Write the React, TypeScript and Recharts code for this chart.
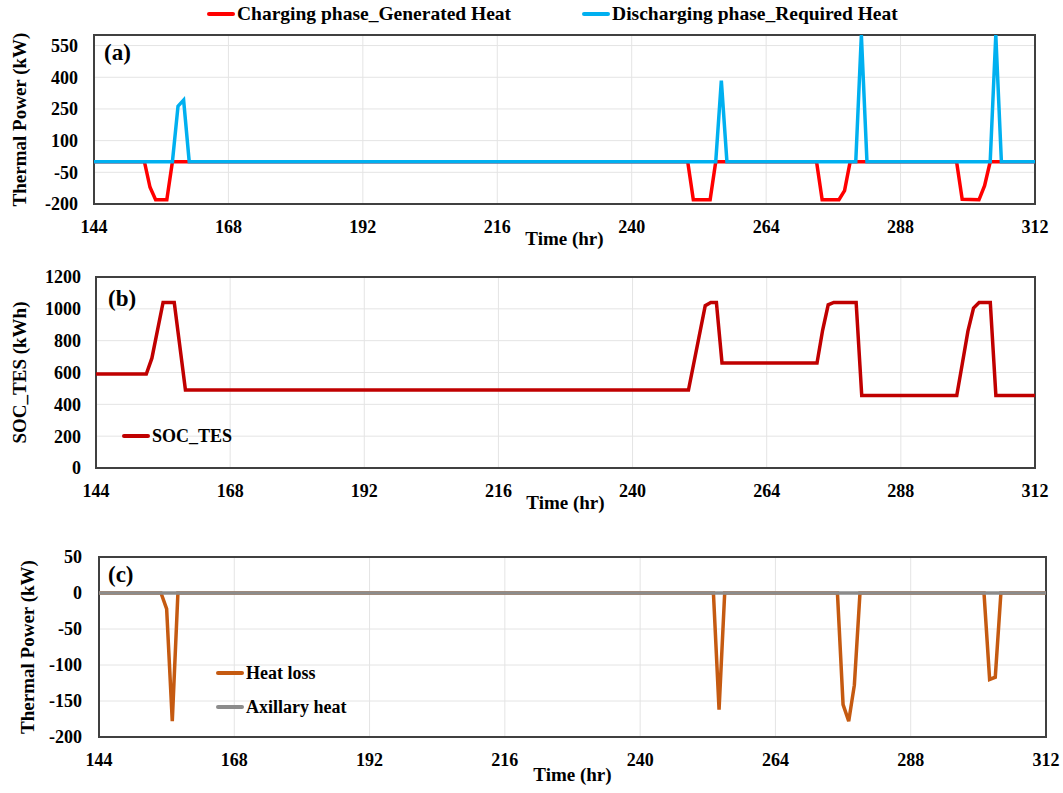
import React from "react";
import { LineChart, Line, XAxis, YAxis, CartesianGrid, Legend, ReferenceArea, Label } from "recharts";

const FONT = '"Liberation Serif", "Times New Roman", serif';

const hourTicks = [144, 168, 192, 216, 240, 264, 288, 312];

// (a) charging / discharging heat of the TES
const chargeHours = [144, 153, 154, 155, 157, 158, 250, 251, 254, 255, 273, 274, 277, 278, 279, 298, 299, 302, 303, 304, 312];
const chargeHeat = [0, 0, -121, -180, -180, 0, 0, -180, -180, 0, 0, -180, -180, -137, 0, 0, -178, -180, -113, 0, 0];
const dischargeHours = [144, 158, 159, 160, 161, 255, 256, 257, 280, 281, 282, 304, 305, 306, 312];
const dischargeHeat = [0, 0, 263, 292, 0, 0, 384, 0, 0, 600, 0, 0, 600, 0, 0];
const powerTicks = [-200, -50, 100, 250, 400, 550];

// (b) state of charge
const socHours = [144, 153, 154, 156, 158, 160, 250, 253, 254, 255, 256, 273, 274, 275, 276, 280, 281, 298, 299, 300, 301, 302, 304, 305, 312];
const socValues = [590, 590, 690, 1040, 1040, 490, 490, 1020, 1040, 1040, 660, 660, 865, 1025, 1040, 1040, 455, 455, 657, 860, 1005, 1040, 1040, 455, 455];
const socTicks = [0, 200, 400, 600, 800, 1000, 1200];

// (c) losses and auxiliary heat
const lossHours = [144, 155, 156, 157, 158, 253, 254, 255, 275, 276, 277, 278, 279, 301, 302, 303, 304, 312];
const heatLoss = [0, 0, -22, -178, 0, 0, -162, 0, 0, -155, -178, -128, 0, 0, -120, -117, 0, 0];
const auxHours = [144, 312];
const auxHeat = [0, 0];
const lossTicks = [-200, -150, -100, -50, 0, 50];

const toSeries = (hours: number[], values: number[]) => hours.map((t, i) => ({ t, v: values[i] }));

const textStyle = { fontFamily: FONT, fontWeight: 700, fill: "#000" };

function LegendBox({ payload, order, vertical }: any) {
  const items = order.map((name: string) => (payload || []).find((p: any) => p.value === name)).filter(Boolean);
  return (
    <div style={{ display: "flex", flexDirection: vertical ? "column" : "row", gap: vertical ? 12 : 71 }}>
      {items.map((p: any) => (
        <div key={p.value} style={{ display: "flex", alignItems: "center", height: 22 }}>
          <span style={{ display: "inline-block", width: 28, height: 4, background: p.color, borderRadius: 2 }} />
          <span style={{ marginLeft: 2, fontFamily: FONT, fontWeight: 700, fontSize: vertical ? 18 : 19.5, color: "#000", whiteSpace: "nowrap" }}>
            {p.value}
          </span>
        </div>
      ))}
    </div>
  );
}

const yTitle = (text: string, cx: number) => (props: any) => {
  const vb = props.viewBox || {};
  const cy = vb.y + vb.height / 2;
  return (
    <text x={cx} y={cy} transform={`rotate(-90 ${cx} ${cy})`} textAnchor="middle" dominantBaseline="central" fontSize={19} {...textStyle}>
      {text}
    </text>
  );
};

function Panel({ top, height, margin, yWidth, domain, ticks, yLabel, yLabelX, tickGap, timeOffset, children }: any) {
  return (
    <div style={{ position: "absolute", left: 0, top }}>
      <LineChart width={1063} height={height} margin={margin}>
        <CartesianGrid stroke="#e4e4e4" strokeWidth={1} />
        <XAxis
          dataKey="t"
          type="number"
          domain={[144, 312]}
          ticks={hourTicks}
          axisLine={false}
          tickLine={false}
          tickSize={0}
          tickMargin={16}
          height={50}
          tick={{ fontSize: 18, ...textStyle }}
          label={{ value: "Time (hr)", position: "insideBottom", offset: timeOffset, fontSize: 19, ...textStyle }}
        />
        <YAxis
          type="number"
          domain={domain}
          ticks={ticks}
          width={yWidth}
          axisLine={false}
          tickLine={false}
          tickSize={0}
          tickMargin={tickGap}
          tick={{ fontSize: 18, ...textStyle }}
          label={<Label content={yTitle(yLabel, yLabelX)} />}
        />
        {children}
        <ReferenceArea x1={144} x2={312} y1={domain[0]} y2={domain[1]} fill="none" stroke="#404040" strokeWidth={2} />
      </LineChart>
    </div>
  );
}

const tagStyle = (left: number, top: number): React.CSSProperties => ({
  position: "absolute",
  left,
  top,
  fontFamily: FONT,
  fontWeight: 700,
  fontSize: 23,
  lineHeight: 1,
  color: "#000",
});

export default function App() {
  return (
    <div style={{ position: "absolute", left: 0, top: 0, width: 1063, height: 793, background: "#fff", overflow: "hidden" }}>
      <Panel
        top={0}
        height={260}
        margin={{ top: 35, right: 28, bottom: 6, left: 0 }}
        yWidth={94}
        domain={[-200, 600]}
        ticks={powerTicks}
        yLabel="Thermal Power (kW)"
        yLabelX={19}
        tickGap={16}
        timeOffset={9}
      >
        <Legend
          layout="horizontal"
          verticalAlign="middle"
          align="center"
          wrapperStyle={{ left: 207, top: 3, width: "auto" }}
          content={(p: any) => (
            <LegendBox {...p} order={["Charging phase_Generated Heat", "Discharging phase_Required Heat"]} />
          )}
        />
        <Line data={toSeries(chargeHours, chargeHeat)} dataKey="v" name="Charging phase_Generated Heat" stroke="#ff0000" strokeWidth={3.5} dot={false} isAnimationActive={false} />
        <Line data={toSeries(dischargeHours, dischargeHeat)} dataKey="v" name="Discharging phase_Required Heat" stroke="#00b0f0" strokeWidth={3.5} dot={false} isAnimationActive={false} />
      </Panel>

      <Panel
        top={250}
        height={270}
        margin={{ top: 27, right: 28, bottom: 2, left: 0 }}
        yWidth={96}
        domain={[0, 1200]}
        ticks={socTicks}
        yLabel="SOC_TES (kWh)"
        yLabelX={19}
        tickGap={15}
        timeOffset={9}
      >
        <Legend
          layout="horizontal"
          verticalAlign="middle"
          align="center"
          wrapperStyle={{ left: 122, top: 175, width: "auto" }}
          content={(p: any) => <LegendBox {...p} order={["SOC_TES"]} vertical />}
        />
        <Line data={toSeries(socHours, socValues)} dataKey="v" name="SOC_TES" stroke="#c00000" strokeWidth={3.5} dot={false} isAnimationActive={false} />
      </Panel>

      <Panel
        top={520}
        height={273}
        margin={{ top: 37, right: 17, bottom: 6, left: 0 }}
        yWidth={99}
        domain={[-200, 50]}
        ticks={lossTicks}
        yLabel="Thermal Power (kW)"
        yLabelX={27}
        tickGap={17}
        timeOffset={6}
      >
        <Legend
          layout="horizontal"
          verticalAlign="middle"
          align="center"
          wrapperStyle={{ left: 216, top: 142, width: "auto" }}
          content={(p: any) => <LegendBox {...p} order={["Heat loss", "Axillary heat"]} vertical />}
        />
        <Line data={toSeries(lossHours, heatLoss)} dataKey="v" name="Heat loss" stroke="#c55a11" strokeWidth={3.5} dot={false} isAnimationActive={false} />
        <Line data={toSeries(auxHours, auxHeat)} dataKey="v" name="Axillary heat" stroke="#8c8c8c" strokeWidth={3.5} dot={false} isAnimationActive={false} />
      </Panel>

      <div style={tagStyle(104, 41)}>(a)</div>
      <div style={tagStyle(108, 287)}>(b)</div>
      <div style={tagStyle(108, 563)}>(c)</div>
    </div>
  );
}
